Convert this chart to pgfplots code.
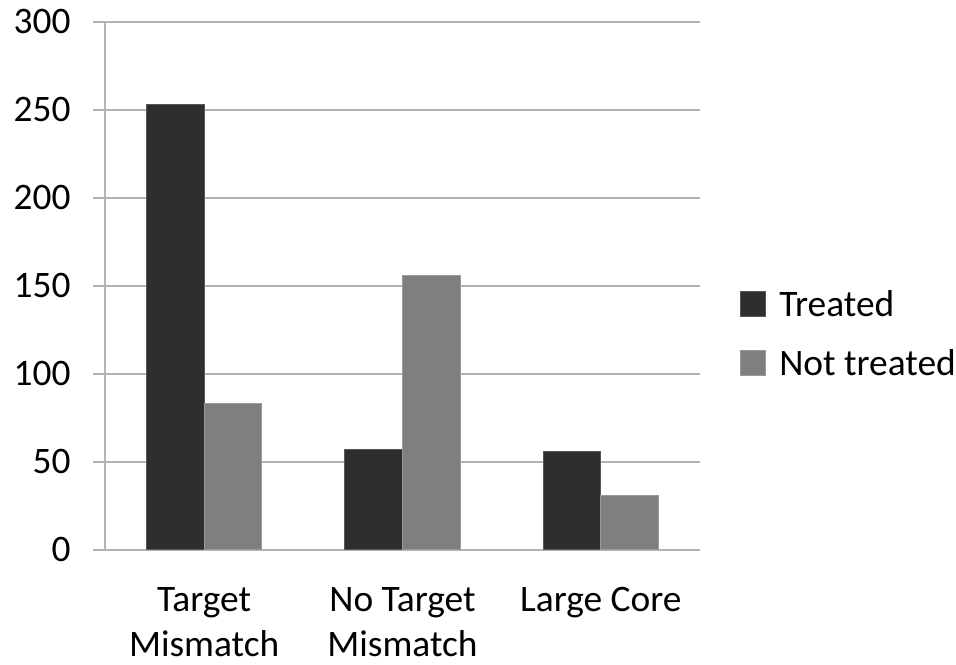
\documentclass[border=0pt]{standalone}
\usepackage{pgfplots}
\pgfplotsset{compat=1.18}
\usetikzlibrary{calc}
\usepackage{fontspec}
\setmainfont{Carlito}
\definecolor{treated}{HTML}{2E2E2E}
\definecolor{nottreated}{HTML}{7F7F7F}
\definecolor{gridc}{HTML}{B4B4B4}
\begin{document}
\fontsize{18.7}{23}\selectfont
\begin{tikzpicture}
\begin{axis}[
  name=ax,
  scale only axis,
  width=297.5pt, height=264pt,
  ybar=0pt, bar width=0.29,
  xmin=-0.5, xmax=2.5,
  ymin=0, ymax=300,
  ytick={0,50,...,300},
  ymajorgrids,
  grid style={gridc, line width=1pt},
  axis x line*=bottom, axis y line*=left,
  axis line style={gridc, line width=1pt, -},
  xtick={0,1,2},
  xticklabels={{Target\\Mismatch},{No Target\\Mismatch},{Large Core}},
  major x tick style={draw=none},
  extra x ticks={-0.5,0.5,1.5,2.5},
  extra x tick labels={},
  extra x tick style={major tick length=6pt, tick style={gridc, line width=1pt}, xmajorgrids=false},
  tick align=outside,
  major tick length=6pt,
  tick style={gridc, line width=1pt},
  xticklabel style={align=center, font=\fontsize{18.7}{22.5}\selectfont, inner sep=0pt, yshift=-12.5pt},
  yticklabel style={inner sep=0pt, xshift=-11pt, font=\fontsize{18.7}{23}\selectfont},
  /pgf/number format/assume math mode=true,
  legend style={draw=none, at={(1.067,0.4915)}, anchor=north west, inner sep=0pt,
    font=\fontsize{18.7}{23}\selectfont, row sep=16.5pt, column sep=6.5pt,
    nodes={inner sep=0pt, text depth=0pt}},
  legend cell align=left,
  legend image code/.code={\path[#1] (0pt,-6.25pt) rectangle (12.5pt,6.25pt);},
  legend columns=1,
]
\addplot[fill=treated, draw=treated!80!white, line width=0.5pt] coordinates {(0,253) (1,57) (2,56)};
\addplot[fill=nottreated, draw=nottreated!80!white, line width=0.5pt] coordinates {(0,83) (1,156) (2,31)};
\legend{Treated, Not treated}
\end{axis}
\path[use as bounding box] ($(ax.south west)+(-52.5pt,-57.5pt)$) rectangle ($(ax.north east)+(128pt,11pt)$);
\end{tikzpicture}
\end{document}
